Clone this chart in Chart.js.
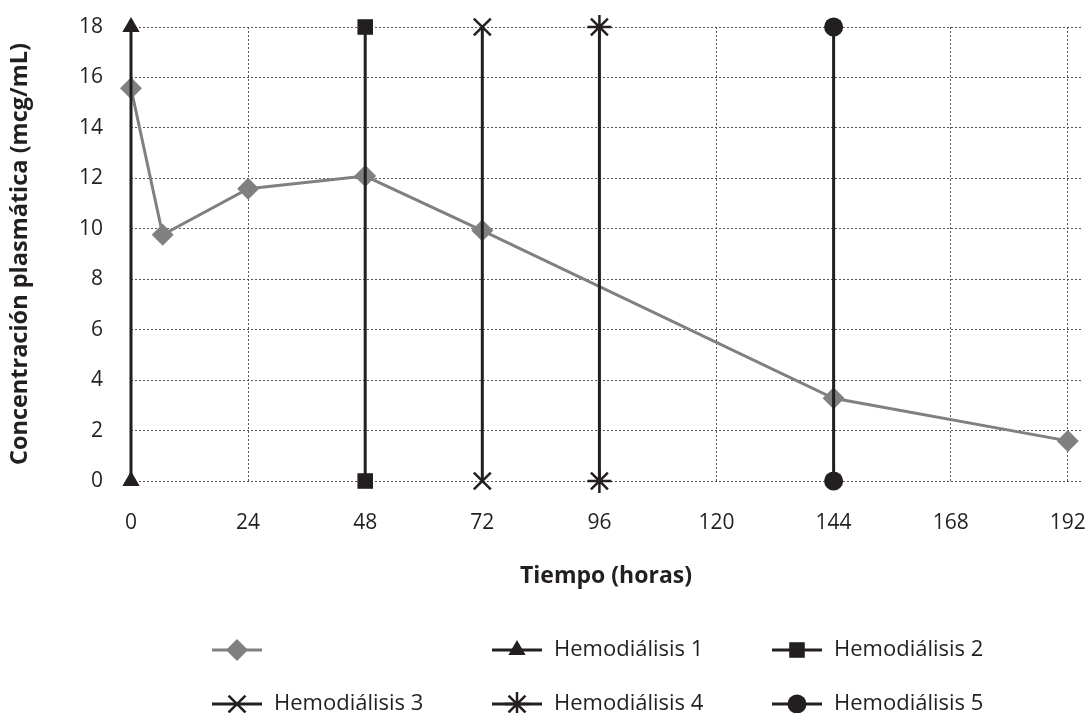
<!DOCTYPE html>
<html><head><meta charset="utf-8">
<script src="https://cdn.jsdelivr.net/npm/chart.js@4.4.1/dist/chart.umd.min.js"></script>
<style>html,body{margin:0;padding:0;background:#fff}#wrap{width:1089px;height:713px}</style>
</head><body><div id="wrap"><canvas id="c" width="1089" height="713"></canvas></div>
<script>
// ---- data ----
const hours = [0, 6.5, 24, 48, 72, 144, 192];
const concentration = [15.57, 9.76, 11.59, 12.09, 9.93, 3.28, 1.59];
const mainLabel = '';
const xTickValues = [0, 24, 48, 72, 96, 120, 144, 168, 192];
const yMin = 0, yMax = 18, yStep = 2;
const dialysisLabels = ['Hemodiálisis 1', 'Hemodiálisis 2', 'Hemodiálisis 3', 'Hemodiálisis 4', 'Hemodiálisis 5'];
const dialysisTimes = [0, 48, 72, 96, 144];
const dialysisRange = [0, 18];
const xTitle = 'Tiempo (horas)';
const yTitle = 'Concentración plasmática (mcg/mL)';

// ---- styles ----
const BLACK = '#231f20', GRAY = '#808080';
const dialysisStyles = ['triangle', 'rect', 'crossRot', 'star', 'circle'];
const dialysisRadius = [10, 11, 12, 12, 9.5];
const FONT = "'Open Sans', 'DejaVu Sans', sans-serif";

const datasets = [{
  label: mainLabel,
  data: hours.map((h, i) => ({x: h, y: concentration[i]})),
  borderColor: GRAY, backgroundColor: GRAY, borderWidth: 3,
  pointStyle: 'rectRot', pointRadius: 11, pointBorderWidth: 0,
  tension: 0, order: 1, clip: false
}];
dialysisLabels.forEach((lab, i) => {
  datasets.push({
    label: lab,
    data: dialysisRange.map(v => ({x: dialysisTimes[i], y: v})),
    borderColor: BLACK, backgroundColor: BLACK, borderWidth: 3,
    pointStyle: dialysisStyles[i], pointRadius: dialysisRadius[i],
    pointBorderWidth: (dialysisStyles[i] === 'crossRot' || dialysisStyles[i] === 'star') ? 2.5 : 0,
    pointBorderColor: BLACK,
    order: 0, clip: false
  });
});

// custom legend in a fixed grid
const legendPlugin = {
  id: 'gridLegend',
  afterDraw(chart) {
    const ctx = chart.ctx;
    const cols = [212, 492, 772], rows = [650, 704];
    chart.data.datasets.forEach((ds, i) => {
      const x = cols[i % 3], y = rows[Math.floor(i / 3)];
      ctx.save();
      ctx.strokeStyle = ds.borderColor; ctx.fillStyle = ds.backgroundColor;
      ctx.lineWidth = 3;
      ctx.beginPath(); ctx.moveTo(x, y); ctx.lineTo(x + 50, y); ctx.stroke();
      ctx.lineWidth = ds.pointBorderWidth || 1;
      Chart.helpers.drawPoint(ctx, {pointStyle: ds.pointStyle, radius: ds.pointRadius, rotation: 0, borderWidth: ds.pointBorderWidth || 0}, x + 25, y);
      ctx.fillStyle = BLACK;
      ctx.font = '22px ' + FONT;
      ctx.textBaseline = 'middle'; ctx.textAlign = 'left';
      ctx.fillText(ds.label, x + 62, y);
      ctx.restore();
    });
  }
};

new Chart(document.getElementById('c'), {
  type: 'line',
  data: {datasets},
  plugins: [legendPlugin],
  options: {
    responsive: false, animation: false, events: [],
    layout: {autoPadding: false, padding: {top: 27, right: 8, bottom: 122, left: 0}},
    plugins: {legend: {display: false}, tooltip: {enabled: false}},
    scales: {
      x: {
        type: 'linear', min: 0, max: 194.7,
        afterBuildTicks: s => { s.ticks = xTickValues.map(v => ({value: v})); },
        afterFit: s => { s.height = 110; s.paddingLeft = 0; s.paddingRight = 0; },
        ticks: {font: {family: FONT, size: 21}, color: BLACK, padding: 29, autoSkip: false, maxRotation: 0},
        grid: {color: '#555', lineWidth: 1, drawTicks: false},
        border: {display: false, dash: [2, 2]},
        title: {display: true, text: xTitle, font: {family: FONT, size: 23, weight: 'bold'}, color: BLACK, padding: {top: 0, bottom: 1}}
      },
      y: {
        min: yMin, max: yMax,
        afterFit: s => { s.width = 131; s.paddingTop = 0; s.paddingBottom = 0; },
        ticks: {stepSize: yStep, font: {family: FONT, size: 21}, color: BLACK, padding: 28},
        grid: {color: '#555', lineWidth: 1, drawTicks: false},
        border: {display: false, dash: [2, 2]},
        title: {display: true, text: yTitle, font: {family: FONT, size: 23.5, weight: 'bold'}, color: BLACK, padding: {top: 6, bottom: 0}}
      }
    }
  }
});
</script></body></html>
